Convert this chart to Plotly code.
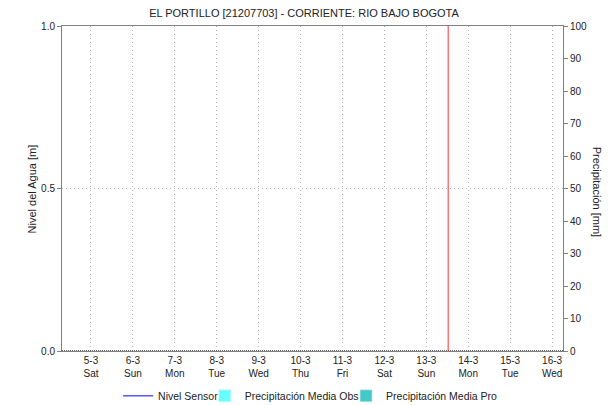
import plotly.graph_objects as go

# dias mostrados en el eje x
fechas = ["2022-03-05", "2022-03-06", "2022-03-07", "2022-03-08", "2022-03-09", "2022-03-10",
          "2022-03-11", "2022-03-12", "2022-03-13", "2022-03-14", "2022-03-15", "2022-03-16"]
etiquetas = ["5-3<br>Sat", "6-3<br>Sun", "7-3<br>Mon", "8-3<br>Tue", "9-3<br>Wed", "10-3<br>Thu",
             "11-3<br>Fri", "12-3<br>Sat", "13-3<br>Sun", "14-3<br>Mon", "15-3<br>Tue", "16-3<br>Wed"]
rango_x = ["2022-03-04 07:25", "2022-03-16 06:15"]
hora_actual = "2022-03-13 12:30"

# series (sin datos en la ventana)
nivel_x, nivel_y = [None], [None]
precip_obs_x, precip_obs_y = [None], [None]
precip_pro_x, precip_pro_y = [None], [None]

fuente = "Liberation Sans, Arial, sans-serif"
gris = "#808080"
grid = "#B8B8B8"

fig = go.Figure()
fig.add_trace(go.Scatter(x=nivel_x, y=nivel_y, mode="lines", name="Nivel Sensor",
                         line=dict(color="#0000FF", width=1), legend="legend"))
fig.add_trace(go.Bar(x=precip_obs_x, y=precip_obs_y, name="Precipitación Media Obs",
                     marker_color="#66FFFF", yaxis="y2", legend="legend2"))
fig.add_trace(go.Bar(x=precip_pro_x, y=precip_pro_y, name="Precipitación Media Pro",
                     marker_color="#44C8C8", yaxis="y2", legend="legend3"))

leg = dict(orientation="h", y=-0.138, yanchor="middle", xanchor="left",
           font=dict(size=10.5, color="#222222"), bgcolor="rgba(0,0,0,0)")

fig.update_layout(
    width=608, height=405,
    margin=dict(l=62, r=45, t=26, b=54, autoexpand=False),
    plot_bgcolor="white", paper_bgcolor="white",
    font=dict(family=fuente, size=10, color="#222222"),
    title=dict(text="EL PORTILLO [21207703] - CORRIENTE: RIO BAJO BOGOTA",
               x=0.5, xanchor="center", y=0.968, yanchor="middle",
               font=dict(size=11, color="#222222")),
    showlegend=True,
    legend=dict(leg, x=0.112),
    legend2=dict(leg, x=0.285),
    legend3=dict(leg, x=0.567),
    xaxis=dict(type="date", range=rango_x, tickvals=fechas, ticktext=etiquetas,
               showgrid=True, gridcolor=grid, griddash="1px,3px", gridwidth=1,
               showline=True, linecolor=gris, mirror=True, ticks="", zeroline=False,
               tickfont=dict(size=10)),
    yaxis=dict(range=[0, 1], tickvals=[0, 0.5, 1.0], ticktext=["0.0", "0.5", "1.0"],
               showgrid=True, gridcolor=grid, griddash="1px,3px",
               showline=True, linecolor=gris, ticks="outside", ticklen=4, tickcolor=gris,
               zeroline=False, tickfont=dict(size=10)),
    yaxis2=dict(range=[0, 100], tickvals=list(range(0, 101, 10)), overlaying="y", side="right",
                showgrid=False, showline=True, linecolor=gris, ticks="outside", ticklen=4,
                tickcolor=gris, zeroline=False, tickfont=dict(size=10)),
    shapes=[
        dict(type="line", xref="paper", yref="y", x0=0, x1=1, y0=0, y1=0,
             line=dict(color="#333333", width=1.5, dash="1px,1px")),
        dict(type="line", xref="x", yref="paper", x0=hora_actual, x1=hora_actual, y0=0, y1=1,
             line=dict(color="#FF3030", width=1)),
    ],
    annotations=[
        dict(text="Nivel del Agua [m]", xref="paper", yref="paper", x=-0.06, y=0.5,
             textangle=-90, showarrow=False, xanchor="center", yanchor="middle",
             font=dict(size=11)),
        dict(text="Precipitación [mm]", xref="paper", yref="paper", x=1.068, y=0.49,
             textangle=90, showarrow=False, xanchor="center", yanchor="middle",
             font=dict(size=11)),
    ],
)

fig.write_html("out.html", config={"displayModeBar": False},
               post_script="document.body.style.margin='0';")
